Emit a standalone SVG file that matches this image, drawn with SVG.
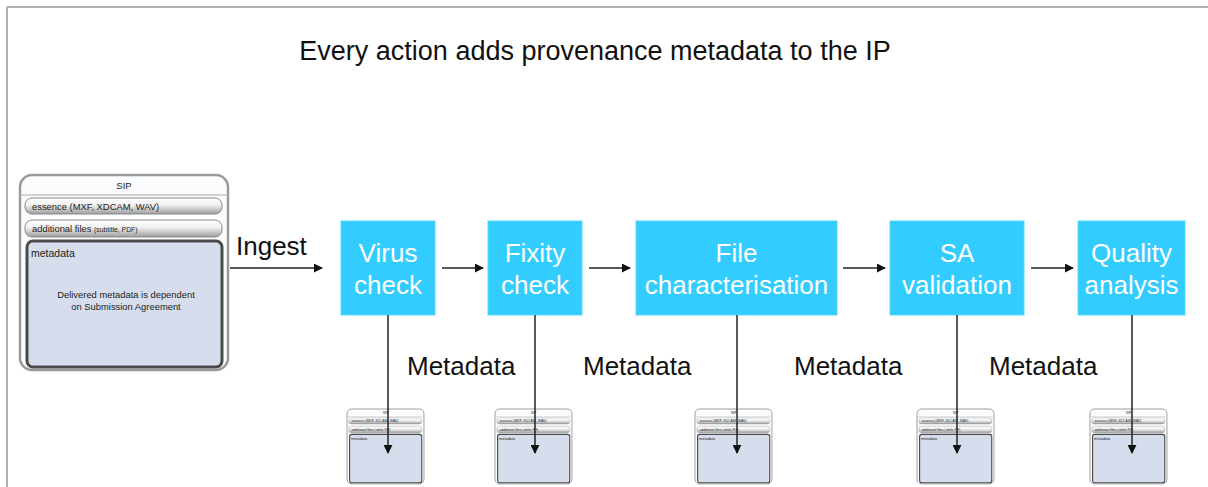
<svg xmlns="http://www.w3.org/2000/svg" xmlns:xlink="http://www.w3.org/1999/xlink" width="1208" height="487" viewBox="0 0 1208 487">
<style>
.t{font-family:"Liberation Sans",Arial,sans-serif;}
.title{font-size:27px;fill:#111;}
.lbl{font-size:26px;fill:#111;}
.box{fill:#33CCFF;stroke:#5AD6FF;stroke-width:1;}
.bt{font-size:26px;fill:#fff;text-anchor:middle;}
.ln{stroke:#222;stroke-width:1.5;fill:none;}
</style>
<defs>
<marker id="ah" viewBox="0 0 10 10" refX="9" refY="5" markerWidth="9" markerHeight="9" markerUnits="userSpaceOnUse" orient="auto">
<path d="M0,0 L10,5 L0,10 z" fill="#111"/>
</marker>
<linearGradient id="pill" x1="0" y1="0" x2="0" y2="1">
<stop offset="0" stop-color="#ffffff"/>
<stop offset="0.45" stop-color="#f0f0f0"/>
<stop offset="1" stop-color="#9c9c9c"/>
</linearGradient>
<g id="sipFrame" font-family="Liberation Sans, Arial, sans-serif" fill="#222">
<rect x="0" y="0" width="208" height="195" rx="12" fill="#fbfcfe" stroke="#9a9a9a" stroke-width="2.5"/>
<path d="M1.5,20 H206.5" stroke="#aaa" stroke-width="1"/>
<rect x="5" y="23" width="197" height="16" rx="7" fill="url(#pill)" stroke="#8a8a8a" stroke-width="1"/>
<rect x="5" y="45" width="197" height="17" rx="7" fill="url(#pill)" stroke="#8a8a8a" stroke-width="1"/>
<rect x="7" y="66" width="195" height="126" rx="6" fill="#D6DEEE" stroke="#4a4a4a" stroke-width="3"/>
<text font-family="Liberation Sans, Arial, sans-serif" font-size="9.5" x="104" y="14" text-anchor="middle">SIP</text>
<text font-family="Liberation Sans, Arial, sans-serif" font-size="9.4" x="12" y="35">essence (MXF, XDCAM, WAV)</text>
<text font-family="Liberation Sans, Arial, sans-serif" font-size="9.4" x="12" y="57">additional files <tspan font-size="6.8">(subtitle, PDF)</tspan></text>
<text font-family="Liberation Sans, Arial, sans-serif" font-size="10.5" x="11" y="82">metadata</text>
</g>
</defs>
<rect x="0" y="0" width="1208" height="487" fill="#fff"/>
<path d="M7,7 H1208 M7,7 V487" stroke="#b0b0b0" stroke-width="2" fill="none"/>
<text class="t title" x="595" y="60" text-anchor="middle">Every action adds provenance metadata to the IP</text>

<g id="sip-main">
<use xlink:href="#sipFrame" href="#sipFrame" transform="translate(20,175)"/>
<text font-family="Liberation Sans, Arial, sans-serif" font-size="9.4" fill="#222" x="126" y="298" text-anchor="middle">Delivered metadata is dependent</text>
<text font-family="Liberation Sans, Arial, sans-serif" font-size="9.4" fill="#222" x="126" y="310" text-anchor="middle">on Submission Agreement</text>
</g>

<g id="virus-check"><rect class="box" x="341" y="221" width="94" height="94"/><text class="t bt" x="388" y="262">Virus</text><text class="t bt" x="388" y="294">check</text></g>
<g id="fixity-check"><rect class="box" x="488" y="221" width="94" height="94"/><text class="t bt" x="535" y="262">Fixity</text><text class="t bt" x="535" y="294">check</text></g>
<g id="file-char"><rect class="box" x="636" y="221" width="201" height="94"/><text class="t bt" x="736.5" y="262">File</text><text class="t bt" x="736.5" y="294">characterisation</text></g>
<g id="sa-validation"><rect class="box" x="890" y="221" width="134" height="94"/><text class="t bt" x="957" y="262">SA</text><text class="t bt" x="957" y="294">validation</text></g>
<g id="quality"><rect class="box" x="1078" y="221" width="107" height="94"/><text class="t bt" x="1131.5" y="262">Quality</text><text class="t bt" x="1131.5" y="294">analysis</text></g>

<g id="sip-1"><use xlink:href="#sipFrame" href="#sipFrame" transform="translate(347,409) scale(0.37,0.384)"/></g>
<g id="sip-2"><use xlink:href="#sipFrame" href="#sipFrame" transform="translate(495,409) scale(0.37,0.384)"/></g>
<g id="sip-3"><use xlink:href="#sipFrame" href="#sipFrame" transform="translate(695,409) scale(0.37,0.384)"/></g>
<g id="sip-4"><use xlink:href="#sipFrame" href="#sipFrame" transform="translate(917,409) scale(0.37,0.384)"/></g>
<g id="sip-5"><use xlink:href="#sipFrame" href="#sipFrame" transform="translate(1090,409) scale(0.37,0.384)"/></g>

<g id="connectors">
<path class="ln" d="M230,268 H322" marker-end="url(#ah)"/>
<path class="ln" d="M442,268 H483" marker-end="url(#ah)"/>
<path class="ln" d="M589,268 H630" marker-end="url(#ah)"/>
<path class="ln" d="M843,268 H885" marker-end="url(#ah)"/>
<path class="ln" d="M1031,268 H1073" marker-end="url(#ah)"/>
<path class="ln" d="M388,315 V453" marker-end="url(#ah)"/>
<path class="ln" d="M535,315 V453" marker-end="url(#ah)"/>
<path class="ln" d="M737,315 V453" marker-end="url(#ah)"/>
<path class="ln" d="M957,315 V453" marker-end="url(#ah)"/>
<path class="ln" d="M1132,315 V453" marker-end="url(#ah)"/>
<text class="t lbl" x="236" y="255">Ingest</text>
<text class="t lbl" x="407" y="375">Metadata</text>
<text class="t lbl" x="583" y="375">Metadata</text>
<text class="t lbl" x="794" y="375">Metadata</text>
<text class="t lbl" x="989" y="375">Metadata</text>
</g>
</svg>
